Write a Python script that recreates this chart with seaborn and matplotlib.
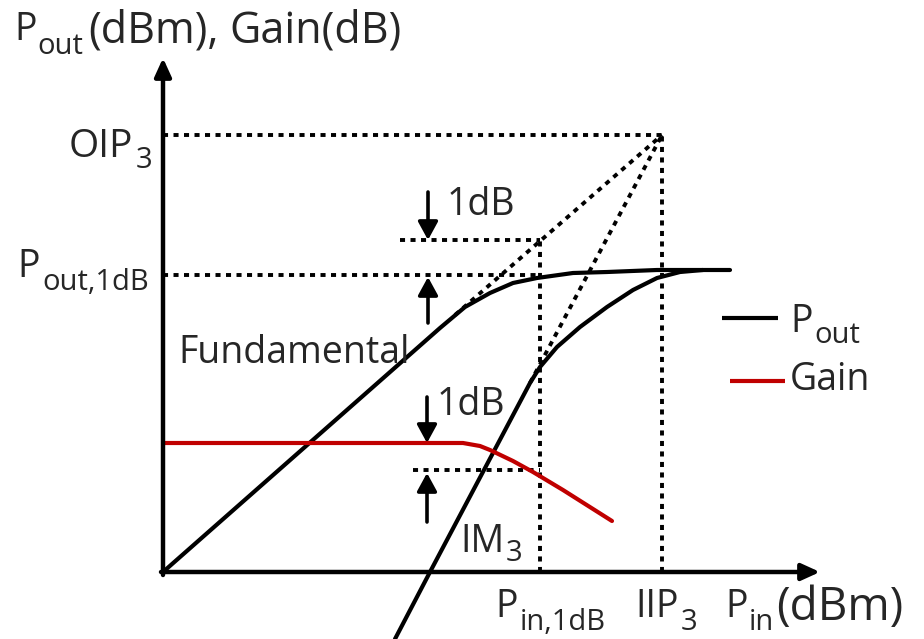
import matplotlib
matplotlib.use("Agg")
import matplotlib.pyplot as plt
import seaborn as sns
import pandas as pd

sns.set_theme(style="white")
plt.rcParams["font.family"] = ["Open Sans", "DejaVu Sans"]

# Schematic amplifier transfer curves (input power vs. output power, diagram units)
fund_pin = [0, 277, 302, 327, 350, 374, 410, 444, 494, 567]
fund_pout = [0, 244, 265, 279, 289, 294, 299, 300, 302, 302]

im3_pin = [232, 267, 367, 377, 394, 417, 444, 470, 494, 517, 540]
im3_pout = [-67, 0, 189, 205, 225, 245, 265, 282, 294, 300, 302]

gain_pin = [0, 300, 317, 327, 350, 370, 400, 449]
gain_db = [129, 129, 126, 122, 111, 100, 82, 51]

# Characteristic points
fund_knee = (292, 257)
im3_bend = (367, 189)
PIN_1DB = 377
IIP3 = 499
OIP3 = 437
POUT_1DB = 297
POUT_LINEAR = 332
GAIN_LINEAR = 129
GAIN_1DB = 102

fig = plt.figure(figsize=(9.24, 6.39), dpi=100)
ax = fig.add_axes([0, 0, 1, 1])

BLACK = "black"
RED = "#C00000"
LW = 3.0
dot = dict(color=BLACK, lw=2.8, linestyle=(0, (1.3, 1.4)), dash_capstyle="butt")

fund_df = pd.DataFrame({"Pin": fund_pin, "Pout": fund_pout})
im3_df = pd.DataFrame({"Pin": im3_pin, "Pout": im3_pout})
gain_df = pd.DataFrame({"Pin": gain_pin, "Gain": gain_db})

# Extrapolated linear responses meeting at the third-order intercept
ax.plot([fund_knee[0], IIP3], [fund_knee[1], OIP3], **dot)
ax.plot([im3_bend[0], IIP3], [im3_bend[1], OIP3], **dot)

# Reference levels
ax.plot([0, IIP3], [OIP3, OIP3], **dot)
ax.plot([IIP3, IIP3], [0, OIP3], **dot)
ax.plot([0, PIN_1DB], [POUT_1DB, POUT_1DB], **dot)
ax.plot([237, PIN_1DB], [POUT_LINEAR, POUT_LINEAR], **dot)
ax.plot([PIN_1DB, PIN_1DB], [0, POUT_LINEAR], **dot)
ax.plot([250, PIN_1DB], [GAIN_1DB, GAIN_1DB], **dot)

line_kw = dict(sort=False, estimator=None, lw=LW, ax=ax, legend=False)
sns.lineplot(data=fund_df, x="Pin", y="Pout", color=BLACK, **line_kw)
sns.lineplot(data=im3_df, x="Pin", y="Pout", color=BLACK, **line_kw)
sns.lineplot(data=gain_df, x="Pin", y="Gain", color=RED, **line_kw)
ax.set_xlim(-163, 761)
ax.set_ylim(-67, 572)
ax.set_axis_off()

# Axes with arrow heads
axis_arrow = dict(arrowstyle="-|>,head_length=0.55,head_width=0.25",
                  lw=3.2, color=BLACK, shrinkA=0, shrinkB=0, mutation_scale=20)
ax.annotate("", xy=(0, 514), xytext=(0, -3), arrowprops=axis_arrow)
ax.annotate("", xy=(657, 0), xytext=(-2, 0), arrowprops=axis_arrow)

# 1 dB markers
small_arrow = dict(arrowstyle="-|>,head_length=0.55,head_width=0.3",
                   lw=2.6, color=BLACK, shrinkA=0, shrinkB=0, mutation_scale=20)
ax.annotate("", xy=(265, POUT_LINEAR), xytext=(265, 380), arrowprops=small_arrow)
ax.annotate("", xy=(265, POUT_1DB - 2), xytext=(265, 249), arrowprops=small_arrow)
ax.annotate("", xy=(264, GAIN_LINEAR), xytext=(264, 175), arrowprops=small_arrow)
ax.annotate("", xy=(264, GAIN_1DB - 3), xytext=(264, 50), arrowprops=small_arrow)

FS = 27     # labels
SUB = 21    # subscripts
UNIT = 31   # axis unit text
renderer = fig.canvas.get_renderer()


def label(parts, x, y, ha="left"):
    """Lay out (text, size, gap_before, drop) pieces side by side from one baseline."""
    items = []
    for s, size, gap, drop in parts:
        t = ax.text(x, y, s, fontsize=size, va="baseline", ha="left")
        w = t.get_window_extent(renderer).width
        items.append((t, gap, drop, w))
    total = sum(w + g for _, g, _, w in items)
    # widths come in pixels; one data unit spans one pixel on these axes
    x0 = x - total if ha == "right" else x
    for t, gap, drop, w in items:
        x0 += gap
        t.set_position((x0, y - drop))
        x0 += w


label([("P", FS, 0, 0), ("out", SUB, 1, 14), ("(dBm),", UNIT, 5, 3),
       ("Gain(dB)", UNIT, 10, 3)], -149, 532)
label([("OIP", FS + 1, 0, 0), ("3", SUB, 2, 11)], -11, 415, ha="right")
label([("P", FS, 0, 0), ("out,1dB", SUB, 2, 13)], -14, 295, ha="right")

label([("1dB", FS, 0, 0)], 284, 357)
label([("Fundamental", FS, 0, 0)], 15, 209)
label([("1dB", FS, 0, 0)], 274, 157)
label([("IM", FS, 0, 0), ("3", SUB, 2, 9)], 297, 20)

label([("P", FS, 0, 0), ("in,1dB", SUB, 2, 13)], 332, -45)
label([("IIP", FS, 0, 0), ("3", SUB, 2, 13)], 472, -45)
label([("P", FS, 0, 0), ("in", SUB, 1, 13), ("(dBm)", UNIT + 2, 2, 3)], 562, -45)

# Legend
ax.plot([559, 615], [254, 254], color=BLACK, lw=LW, solid_capstyle="butt")
label([("P", FS, 0, 0), ("out", SUB, 2, 11)], 627, 240)
ax.plot([567, 622], [191, 191], color=RED, lw=LW, solid_capstyle="butt")
label([("Gain", FS, 0, 0)], 627, 182)

fig.savefig("out.png", dpi=100)
